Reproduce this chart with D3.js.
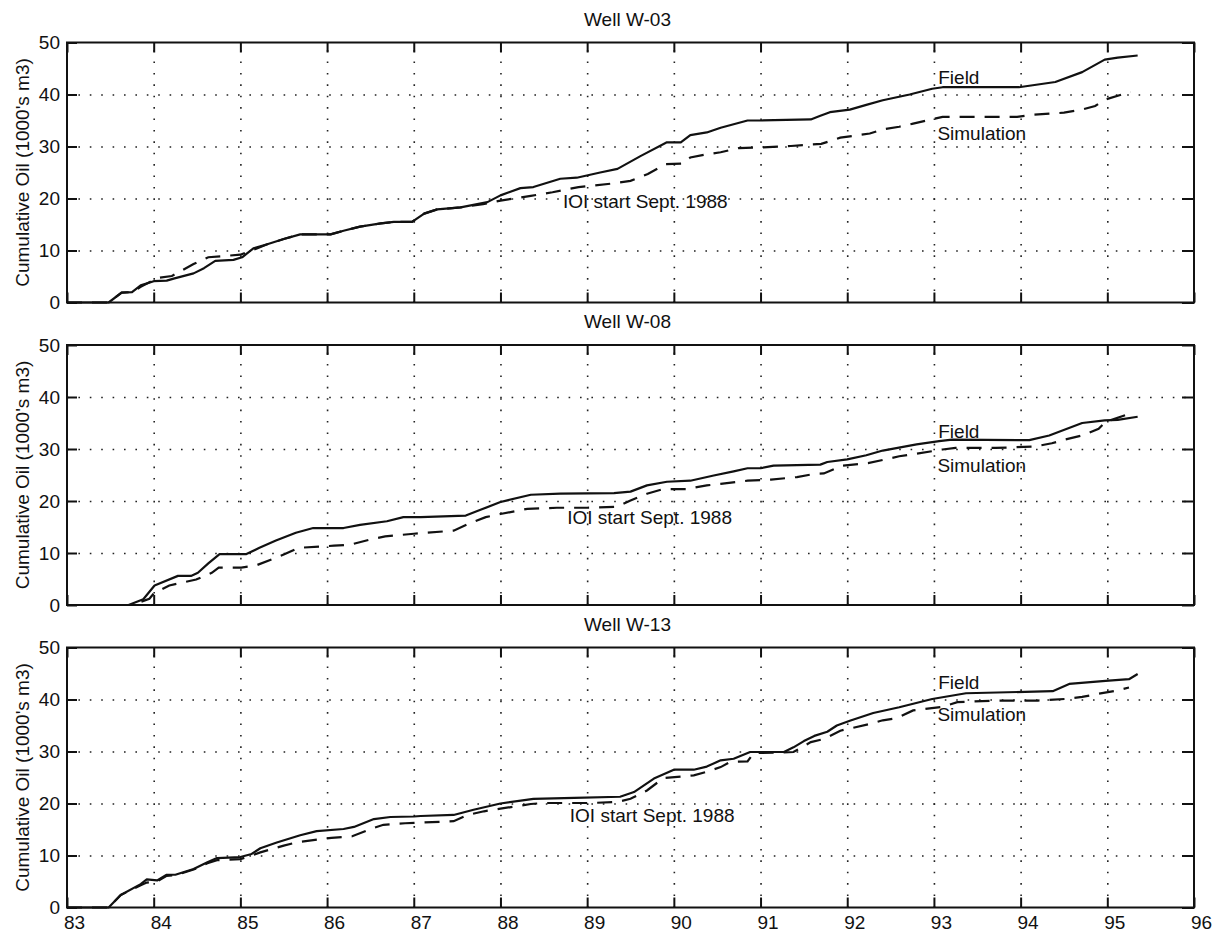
<!DOCTYPE html>
<html>
<head>
<meta charset="utf-8">
<script src="https://cdn.jsdelivr.net/npm/d3@7"></script>
<style>
  body { margin: 0; background: #fff; }
  svg text { font-family: "Liberation Sans", Arial, Helvetica, sans-serif; fill: #111; }
</style>
</head>
<body>
<div id="chart"></div>
<script>
// cumulative oil, [year, 1000's m3]
const w03Field = [[83.0,0],[83.48,0],[83.63,1.9],[83.75,2.0],[83.85,3.3],[84.0,4.1],[84.15,4.2],[84.23,4.6],[84.46,5.6],[84.58,6.6],[84.71,8.0],[84.92,8.2],[85.02,8.7],[85.15,10.4],[85.31,11.2],[85.5,12.2],[85.69,13.1],[86.04,13.1],[86.19,13.8],[86.38,14.6],[86.62,15.2],[86.77,15.5],[86.98,15.5],[87.12,17.1],[87.27,17.9],[87.54,18.3],[87.85,19.3],[88.0,20.6],[88.23,22.0],[88.38,22.2],[88.69,23.8],[88.88,24.0],[89.15,25.0],[89.35,25.7],[89.62,28.2],[89.92,30.8],[90.08,30.8],[90.19,32.2],[90.38,32.7],[90.54,33.6],[90.85,35.0],[91.0,35.0],[91.58,35.2],[91.69,35.9],[91.8,36.6],[92.03,37.1],[92.22,38.0],[92.41,38.9],[92.72,40.0],[92.98,41.1],[93.1,41.4],[93.98,41.4],[94.4,42.4],[94.71,44.3],[94.97,46.7],[95.12,47.1],[95.35,47.5]];
const w03Sim = [[83.0,0],[83.48,0],[83.63,1.9],[83.75,2.0],[83.85,3.0],[84.04,4.7],[84.21,5.1],[84.46,7.4],[84.63,8.7],[85.0,9.2],[85.19,10.4],[85.31,11.2],[85.5,12.2],[85.69,13.1],[86.04,13.1],[86.19,13.8],[86.38,14.6],[86.62,15.2],[86.77,15.5],[86.98,15.5],[87.12,17.1],[87.27,17.9],[87.54,18.3],[87.8,18.9],[88.0,19.6],[88.35,20.5],[88.6,21.2],[88.9,22.2],[89.3,22.9],[89.5,23.4],[89.7,24.7],[89.9,26.6],[90.1,26.7],[90.19,27.9],[90.38,28.5],[90.54,28.9],[90.75,29.7],[91.0,29.8],[91.35,30.1],[91.7,30.5],[91.92,31.7],[92.26,32.5],[92.41,33.3],[92.6,33.8],[92.76,34.4],[93.1,35.7],[93.72,35.7],[93.96,35.7],[94.13,36.1],[94.5,36.5],[94.71,37.1],[94.86,37.8],[94.97,39.0],[95.27,40.5]];

const w08Field = [[83.0,0],[83.71,0],[83.88,1.1],[84.01,3.75],[84.28,5.6],[84.43,5.6],[84.51,6.2],[84.63,8.0],[84.76,9.8],[85.07,9.8],[85.22,11.0],[85.41,12.4],[85.64,13.9],[85.84,14.8],[86.19,14.8],[86.38,15.4],[86.69,16.1],[86.88,16.9],[87.08,16.9],[87.6,17.2],[87.77,18.3],[88.0,19.8],[88.35,21.2],[88.69,21.4],[89.31,21.5],[89.5,21.8],[89.69,23.0],[89.92,23.7],[90.19,23.9],[90.46,24.9],[90.69,25.7],[90.85,26.3],[91.0,26.3],[91.15,26.8],[91.69,27.0],[91.77,27.5],[92.0,28.0],[92.22,28.8],[92.41,29.7],[92.8,30.9],[93.06,31.5],[93.21,31.8],[94.1,31.7],[94.33,32.6],[94.71,35.0],[94.97,35.5],[95.12,35.6],[95.35,36.2]];
const w08Sim = [[83.0,0],[83.75,0],[83.95,1.2],[84.0,2.2],[84.18,3.75],[84.49,4.9],[84.67,6.2],[84.75,7.2],[85.01,7.2],[85.18,7.6],[85.5,9.7],[85.67,11.0],[86.08,11.4],[86.27,11.6],[86.5,12.6],[86.67,13.2],[87.0,13.7],[87.46,14.3],[87.63,15.6],[87.83,16.9],[88.0,17.5],[88.31,18.5],[88.65,18.7],[89.0,18.7],[89.35,18.9],[89.5,20.1],[89.69,21.4],[89.88,22.3],[90.15,22.3],[90.38,23.0],[90.54,23.3],[90.85,23.9],[91.12,24.1],[91.42,24.6],[91.62,25.2],[91.73,25.3],[91.94,26.8],[92.24,27.3],[92.41,27.9],[92.6,28.6],[92.76,29.0],[93.1,29.9],[93.25,30.2],[93.71,30.2],[94.17,30.5],[94.36,31.1],[94.51,31.8],[94.71,32.6],[94.9,33.9],[94.98,35.2],[95.26,36.8]];

const w13Field = [[83.0,0],[83.48,0],[83.62,2.4],[83.85,4.5],[83.92,5.4],[84.04,5.2],[84.15,6.3],[84.25,6.3],[84.46,7.4],[84.62,8.7],[84.73,9.5],[85.0,9.7],[85.13,10.3],[85.23,11.4],[85.42,12.5],[85.69,13.9],[85.88,14.7],[86.19,15.1],[86.31,15.5],[86.54,17.0],[86.73,17.4],[87.0,17.5],[87.08,17.6],[87.46,17.8],[87.69,18.8],[88.0,20.0],[88.38,20.9],[88.85,21.1],[89.38,21.3],[89.54,22.2],[89.77,24.8],[90.0,26.5],[90.23,26.5],[90.38,27.1],[90.54,28.3],[90.69,28.6],[90.88,29.9],[91.27,29.9],[91.38,30.8],[91.5,32.0],[91.62,33.0],[91.77,33.8],[91.88,35.0],[92.03,35.9],[92.3,37.4],[92.6,38.5],[92.98,40.1],[93.37,41.2],[94.37,41.6],[94.56,43.0],[94.98,43.6],[95.25,43.9],[95.35,44.9]];
const w13Sim = [[83.0,0],[83.48,0],[83.62,2.4],[83.85,4.3],[83.92,4.8],[84.04,5.0],[84.15,6.1],[84.25,6.2],[84.46,7.3],[84.62,8.5],[84.73,9.1],[85.0,9.3],[85.13,10.0],[85.23,10.6],[85.5,11.9],[85.67,12.6],[86.05,13.4],[86.29,13.7],[86.54,15.3],[86.65,15.9],[86.9,16.2],[87.46,16.6],[87.62,17.8],[87.81,18.5],[88.0,19.0],[88.35,19.9],[88.5,20.1],[89.04,20.1],[89.35,20.3],[89.5,20.9],[89.69,22.5],[89.88,24.9],[90.23,25.4],[90.38,26.1],[90.54,27.0],[90.65,28.0],[90.85,28.1],[90.92,29.7],[91.38,29.9],[91.58,31.8],[91.73,32.4],[91.92,34.0],[92.26,35.3],[92.41,36.0],[92.57,36.4],[92.76,37.9],[93.1,38.6],[93.27,39.5],[93.72,39.8],[94.2,39.8],[94.51,40.1],[94.71,40.5],[94.9,41.1],[95.1,41.7],[95.25,42.3]];

const wellNames = ["Well W-03", "Well W-08", "Well W-13"];
const xTicks = [83, 84, 85, 86, 87, 88, 89, 90, 91, 92, 93, 94, 95, 96];
const yTicks = [0, 10, 20, 30, 40, 50];
const yLabel = "Cumulative Oil (1000's m3)";
const ioiText = "IOI start Sept. 1988";

// where the text notes sit, in data units [year, value]
const fieldNote = [[93.05, 42.1], [93.05, 32.2], [93.05, 42.0]];
const simNote = [[93.04, 31.2], [93.04, 25.6], [93.04, 35.9]];
const ioiNote = [[88.72, 18.2], [88.77, 15.6], [88.8, 16.4]];

const wells = [
  {name: wellNames[0], field: w03Field, sim: w03Sim},
  {name: wellNames[1], field: w08Field, sim: w08Sim},
  {name: wellNames[2], field: w13Field, sim: w13Sim}
];

const W = 1224, H = 938;
const left = 67, right = 1194, ph = 260;
const tops = [42.5, 345, 647.5];
const fs = 19;

const svg = d3.select("#chart").append("svg")
  .attr("width", W).attr("height", H);

const x = d3.scaleLinear().domain([83, 96]).range([left, right]);

wells.forEach(function(well, i) {
  const g = svg.append("g").attr("transform", "translate(0," + tops[i] + ")");
  const y = d3.scaleLinear().domain([0, 50]).range([ph, 0]);

  // dotted grid
  g.append("g")
    .attr("class", "grid")
    .attr("transform", "translate(0," + ph + ")")
    .call(d3.axisBottom(x).tickValues(d3.range(84, 96)).tickSize(-ph).tickFormat(""))
    .call(s => s.select(".domain").remove());
  g.append("g")
    .attr("class", "grid")
    .attr("transform", "translate(" + left + ",0)")
    .call(d3.axisLeft(y).tickValues([10, 20, 30, 40]).tickSize(-(right - left)).tickFormat(""))
    .call(s => s.select(".domain").remove());
  g.selectAll(".grid line")
    .attr("stroke", "#222")
    .attr("stroke-width", 1.6)
    .attr("stroke-dasharray", "1.6,9.8");

  // inward ticks on all four sides
  const bottom = g.append("g")
    .attr("transform", "translate(0," + ph + ")")
    .call(d3.axisBottom(x).tickValues(xTicks).tickSizeInner(-10).tickSizeOuter(0).tickPadding(8)
      .tickFormat(i === 2 ? d3.format("d") : ""));
  g.append("g")
    .call(d3.axisTop(x).tickValues(xTicks).tickSizeInner(-10).tickSizeOuter(0).tickFormat(""));
  g.append("g")
    .attr("transform", "translate(" + left + ",0)")
    .call(d3.axisLeft(y).tickValues(yTicks).tickSizeInner(-10).tickSizeOuter(0).tickPadding(7));
  g.append("g")
    .attr("transform", "translate(" + right + ",0)")
    .call(d3.axisRight(y).tickValues(yTicks).tickSizeInner(-12).tickSizeOuter(0).tickFormat(""));

  g.selectAll(".domain").remove();
  g.selectAll(".tick line").filter(function() { return !this.closest(".grid"); })
    .attr("stroke", "#111").attr("stroke-width", 2);
  g.selectAll(".tick text")
    .style("font-size", fs + "px")
    .attr("fill", "#111");
  bottom.selectAll(".tick text").attr("dx", 7);

  // frame
  g.append("rect")
    .attr("x", left).attr("y", 0)
    .attr("width", right - left).attr("height", ph)
    .attr("fill", "none").attr("stroke", "#111").attr("stroke-width", 2);

  const line = d3.line().x(d => x(d[0])).y(d => y(d[1]));

  g.append("path")
    .datum(well.sim)
    .attr("d", line)
    .attr("fill", "none").attr("stroke", "#111")
    .attr("stroke-width", 2.2)
    .attr("stroke-dasharray", "15,10");

  g.append("path")
    .datum(well.field)
    .attr("d", line)
    .attr("fill", "none").attr("stroke", "#111")
    .attr("stroke-width", 2.2)
    .attr("stroke-linejoin", "round");

  // title and axis label
  g.append("text")
    .attr("x", (left + right) / 2 - 3).attr("y", -17)
    .attr("text-anchor", "middle")
    .style("font-size", fs + "px")
    .text(well.name);

  g.append("text")
    .attr("transform", "translate(22," + (ph / 2) + ") rotate(-90)")
    .attr("text-anchor", "middle")
    .attr("dy", "0.35em")
    .style("font-size", fs + "px")
    .text(yLabel);

  // notes
  g.append("text")
    .attr("x", x(fieldNote[i][0])).attr("y", y(fieldNote[i][1]))
    .style("font-size", fs + "px").text("Field");
  g.append("text")
    .attr("x", x(simNote[i][0])).attr("y", y(simNote[i][1]))
    .style("font-size", fs + "px").text("Simulation");
  g.append("text")
    .attr("x", x(ioiNote[i][0])).attr("y", y(ioiNote[i][1]))
    .style("font-size", fs + "px").text(ioiText);
});
</script>
</body>
</html>
